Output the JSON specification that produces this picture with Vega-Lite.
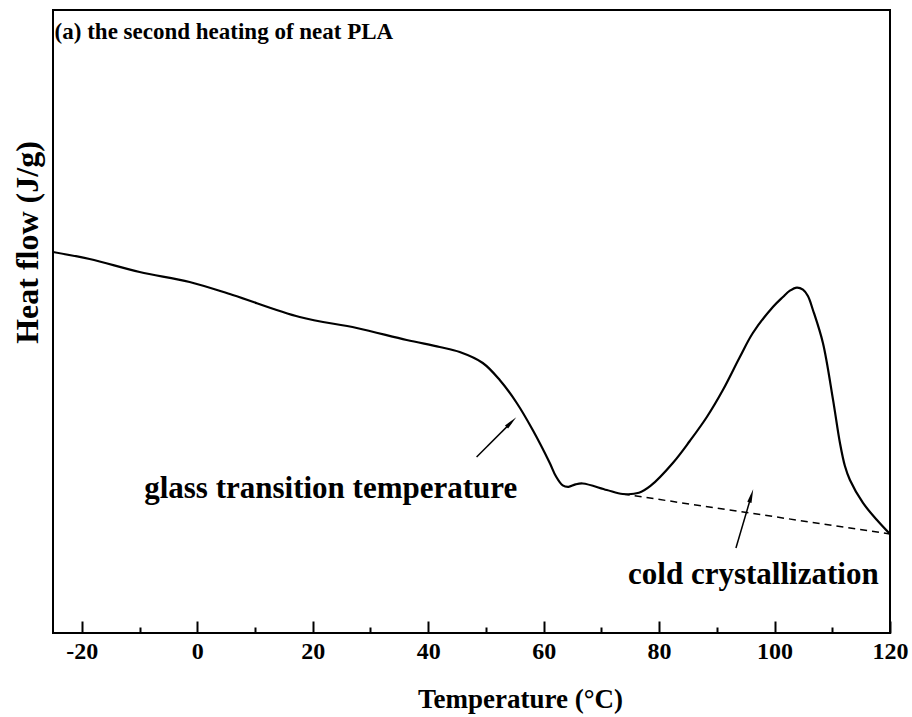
{
  "$schema": "https://vega.github.io/schema/vega-lite/v6.json",
  "width": 837,
  "height": 623,
  "autosize": {"type": "none"},
  "padding": {"left": 53, "top": 10, "right": 22, "bottom": 84},
  "background": "white",
  "config": {
    "view": {"stroke": "black", "strokeWidth": 2},
    "font": "Liberation Serif"
  },
  "datasets": {
    "curve": [
      {"t": -25.0, "hf": 61.16},
      {"t": -18.66, "hf": 60.03},
      {"t": -9.99, "hf": 57.95},
      {"t": -1.33, "hf": 56.34},
      {"t": 6.13, "hf": 54.25},
      {"t": 17.74, "hf": 50.72},
      {"t": 27.62, "hf": 48.96},
      {"t": 36.27, "hf": 47.03},
      {"t": 41.99, "hf": 45.91},
      {"t": 45.46, "hf": 45.10},
      {"t": 49.45, "hf": 43.34},
      {"t": 52.39, "hf": 40.61},
      {"t": 55.34, "hf": 36.92},
      {"t": 58.11, "hf": 32.58},
      {"t": 61.06, "hf": 27.29},
      {"t": 62.1, "hf": 25.2},
      {"t": 63.3, "hf": 23.7},
      {"t": 64.3, "hf": 23.45},
      {"t": 65.5, "hf": 23.85},
      {"t": 66.78, "hf": 24.0},
      {"t": 70.94, "hf": 22.95},
      {"t": 73.71, "hf": 22.31},
      {"t": 76.5, "hf": 22.5},
      {"t": 78.5, "hf": 23.6},
      {"t": 82.38, "hf": 27.29},
      {"t": 85.32, "hf": 30.82},
      {"t": 88.27, "hf": 34.67},
      {"t": 91.05, "hf": 39.0},
      {"t": 93.99, "hf": 44.3},
      {"t": 96.24, "hf": 48.15},
      {"t": 99.71, "hf": 52.33},
      {"t": 101.45, "hf": 53.93},
      {"t": 102.66, "hf": 54.95},
      {"t": 103.88, "hf": 55.45},
      {"t": 104.92, "hf": 55.1},
      {"t": 105.78, "hf": 54.09},
      {"t": 106.65, "hf": 51.85},
      {"t": 108.38, "hf": 46.55},
      {"t": 110.12, "hf": 37.5},
      {"t": 111.33, "hf": 30.5},
      {"t": 112.19, "hf": 26.8},
      {"t": 113.06, "hf": 24.56},
      {"t": 115.32, "hf": 20.87},
      {"t": 117.74, "hf": 18.14},
      {"t": 120.0, "hf": 15.89}
    ],
    "baseline": [
      {"t": 73.71, "hf": 22.31},
      {"t": 120.0, "hf": 15.89}
    ],
    "arrows": [
      {"arrow": "glass", "t": 48.38, "hf": 28.25},
      {"arrow": "glass", "t": 54.41, "hf": 33.84},
      {"arrow": "cold", "t": 93.31, "hf": 13.64},
      {"arrow": "cold", "t": 95.97, "hf": 22.02}
    ]
  },
  "layer": [
    {
      "data": {"name": "curve"},
      "mark": {"type": "line", "color": "black", "strokeWidth": 2.2, "interpolate": "catmull-rom"},
      "encoding": {
        "x": {
          "field": "t",
          "type": "quantitative",
          "scale": {"domain": [-25, 120], "nice": false, "zero": false},
          "axis": {
            "values": [-20, -10, 0, 10, 20, 30, 40, 50, 60, 70, 80, 90, 100, 110, 120],
            "labelExpr": "datum.value % 20 === 0 ? replace(datum.label, '−', '-') : ''",
            "domain": false,
            "grid": false,
            "tickColor": "black",
            "tickWidth": 2,
            "tickSize": {"condition": {"test": "datum.value % 20 === 0", "value": -12}, "value": -6},
            "labelFont": "Liberation Serif",
            "labelFontSize": 24,
            "labelFontWeight": "bold",
            "labelColor": "black",
            "labelPadding": 18,
            "labelOverlap": false,
            "labelBound": false,
            "labelFlush": false,
            "title": "Temperature (°C)",
            "titleFont": "Liberation Serif",
            "titleFontSize": 27,
            "titleFontWeight": "bold",
            "titleColor": "black",
            "titleX": 467,
            "titleY": 74,
            "titleAlign": "center",
            "titleBaseline": "alphabetic"
          }
        },
        "y": {
          "field": "hf",
          "type": "quantitative",
          "scale": {"domain": [0, 100], "nice": false, "zero": false},
          "axis": {
            "ticks": false,
            "labels": false,
            "domain": false,
            "grid": false,
            "title": "Heat flow (J/g)",
            "titleFont": "Liberation Serif",
            "titleFontSize": 32,
            "titleFontWeight": "bold",
            "titleColor": "black",
            "titleAngle": 270,
            "titleX": -26,
            "titleY": 232,
            "titleAlign": "center",
            "titleBaseline": "middle"
          }
        }
      }
    },
    {
      "data": {"name": "baseline"},
      "mark": {"type": "line", "color": "black", "strokeWidth": 1.5, "strokeDash": [7, 5]},
      "encoding": {
        "x": {"field": "t", "type": "quantitative"},
        "y": {"field": "hf", "type": "quantitative"}
      }
    },
    {
      "data": {"name": "arrows"},
      "mark": {"type": "line", "color": "black", "strokeWidth": 1.5},
      "encoding": {
        "x": {"field": "t", "type": "quantitative"},
        "y": {"field": "hf", "type": "quantitative"},
        "detail": {"field": "arrow"}
      }
    },
    {
      "data": {"values": [{"t": 54.41, "hf": 33.84}]},
      "mark": {"type": "point", "shape": "M0,-1L0.32,1L-0.32,1Z", "filled": true, "color": "black", "opacity": 1, "size": 190, "angle": 45},
      "encoding": {
        "x": {"field": "t", "type": "quantitative"},
        "y": {"field": "hf", "type": "quantitative"}
      }
    },
    {
      "data": {"values": [{"t": 95.97, "hf": 22.02}]},
      "mark": {"type": "point", "shape": "M0,-1L0.32,1L-0.32,1Z", "filled": true, "color": "black", "opacity": 1, "size": 190, "angle": 16},
      "encoding": {
        "x": {"field": "t", "type": "quantitative"},
        "y": {"field": "hf", "type": "quantitative"}
      }
    },
    {
      "data": {"values": [{"t": -24.72, "hf": 95.35, "label": "(a) the second heating of neat PLA"}]},
      "mark": {"type": "text", "align": "left", "baseline": "alphabetic", "font": "Liberation Serif", "fontSize": 23, "fontWeight": "bold", "color": "black"},
      "encoding": {
        "x": {"field": "t", "type": "quantitative"},
        "y": {"field": "hf", "type": "quantitative"},
        "text": {"field": "label"}
      }
    },
    {
      "data": {"values": [
        {"t": 23.11, "hf": 21.67, "label": "glass transition temperature"},
        {"t": 96.33, "hf": 7.87, "label": "cold crystallization"}
      ]},
      "mark": {"type": "text", "align": "center", "baseline": "alphabetic", "font": "Liberation Serif", "fontSize": 31, "fontWeight": "bold", "color": "black"},
      "encoding": {
        "x": {"field": "t", "type": "quantitative"},
        "y": {"field": "hf", "type": "quantitative"},
        "text": {"field": "label"}
      }
    }
  ]
}
